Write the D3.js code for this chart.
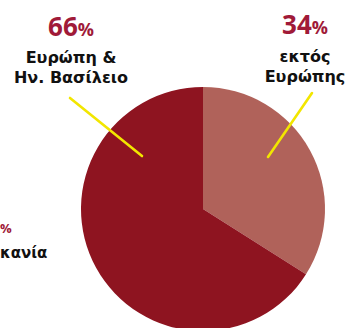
<!DOCTYPE html>
<html>
<head>
<meta charset="utf-8">
<script src="https://cdn.jsdelivr.net/npm/d3@7"></script>
<style>
html,body{margin:0;padding:0;background:#fff;overflow:hidden;}
svg{display:block;}
</style>
</head>
<body>
<svg id="chart" width="347" height="328"></svg>
<script>
// ---- data ----
const categories = ["εκτός Ευρώπης", "Ευρώπη & Ην. Βασίλειο"];
const values = [34, 66];
const labelLines = [["εκτός", "Ευρώπης"], ["Ευρώπη &", "Ην. Βασίλειο"]];
const colors = ["#b0625a", "#8e1420"];
const partialLabel = ["%", "κανία"];

// ---- layout ----
const W = 347, H = 328;
const cx = 203, cy = 209, R = 122;
const svg = d3.select("#chart");
const pctFont = "'Open Sans', 'DejaVu Sans', sans-serif";
const txtFont = "'DejaVu Sans', sans-serif";

const pie = d3.pie().sort(null).value(d => d)(values);
const arc = d3.arc().innerRadius(0).outerRadius(R);

const g = svg.append("g").attr("transform", `translate(${cx},${cy})`);
g.selectAll("path").data(pie).enter().append("path")
  .attr("d", arc)
  .attr("fill", (d, i) => colors[i]);

// leader lines (outer point offsets relative to centre, inner point offsets)
const leaders = [
  {x1: 109, y1: -116, x2: 65, y2: -52},
  {x1: -133, y1: -111, x2: -61, y2: -53}
];
g.selectAll("line.leader").data(leaders).enter().append("line")
  .attr("class", "leader")
  .attr("x1", d => d.x1).attr("y1", d => d.y1)
  .attr("x2", d => d.x2).attr("y2", d => d.y2)
  .attr("stroke", "#f2e600").attr("stroke-width", 2.6).attr("stroke-linecap", "round");

// labels
const labelPos = [{x: 305, y: 34}, {x: 71, y: 36}];
const lab = svg.selectAll("g.lab").data(values).enter().append("g")
  .attr("class", "lab")
  .attr("transform", (d, i) => `translate(${labelPos[i].x},${labelPos[i].y})`);

const pct = lab.append("text")
  .attr("text-anchor", "middle")
  .attr("font-family", pctFont).attr("font-weight", 700)
  .attr("fill", "#a01a38");
pct.append("tspan").attr("font-size", 26).text(d => d);
pct.append("tspan").attr("font-size", 18).text("%");

lab.each(function(d, i) {
  const s = d3.select(this);
  labelLines[i].forEach((t, k) => {
    s.append("text")
      .attr("text-anchor", "middle")
      .attr("y", (i === 0 ? 28 : 27) + k * 20)
      .attr("font-family", txtFont).attr("font-weight", 700)
      .attr("font-size", 16)
      .attr("fill", "#111")
      .text(t);
  });
});

// partially visible label at the left edge
svg.append("text").attr("x", 0).attr("y", 233)
  .attr("text-anchor", "start")
  .attr("font-family", pctFont).attr("font-weight", 700).attr("font-size", 13)
  .attr("fill", "#a01a38").text(partialLabel[0]);
svg.append("text").attr("x", 0).attr("y", 258)
  .attr("text-anchor", "start")
  .attr("font-family", txtFont).attr("font-weight", 700).attr("font-size", 15)
  .attr("fill", "#111").text(partialLabel[1]);
</script>
</body>
</html>
